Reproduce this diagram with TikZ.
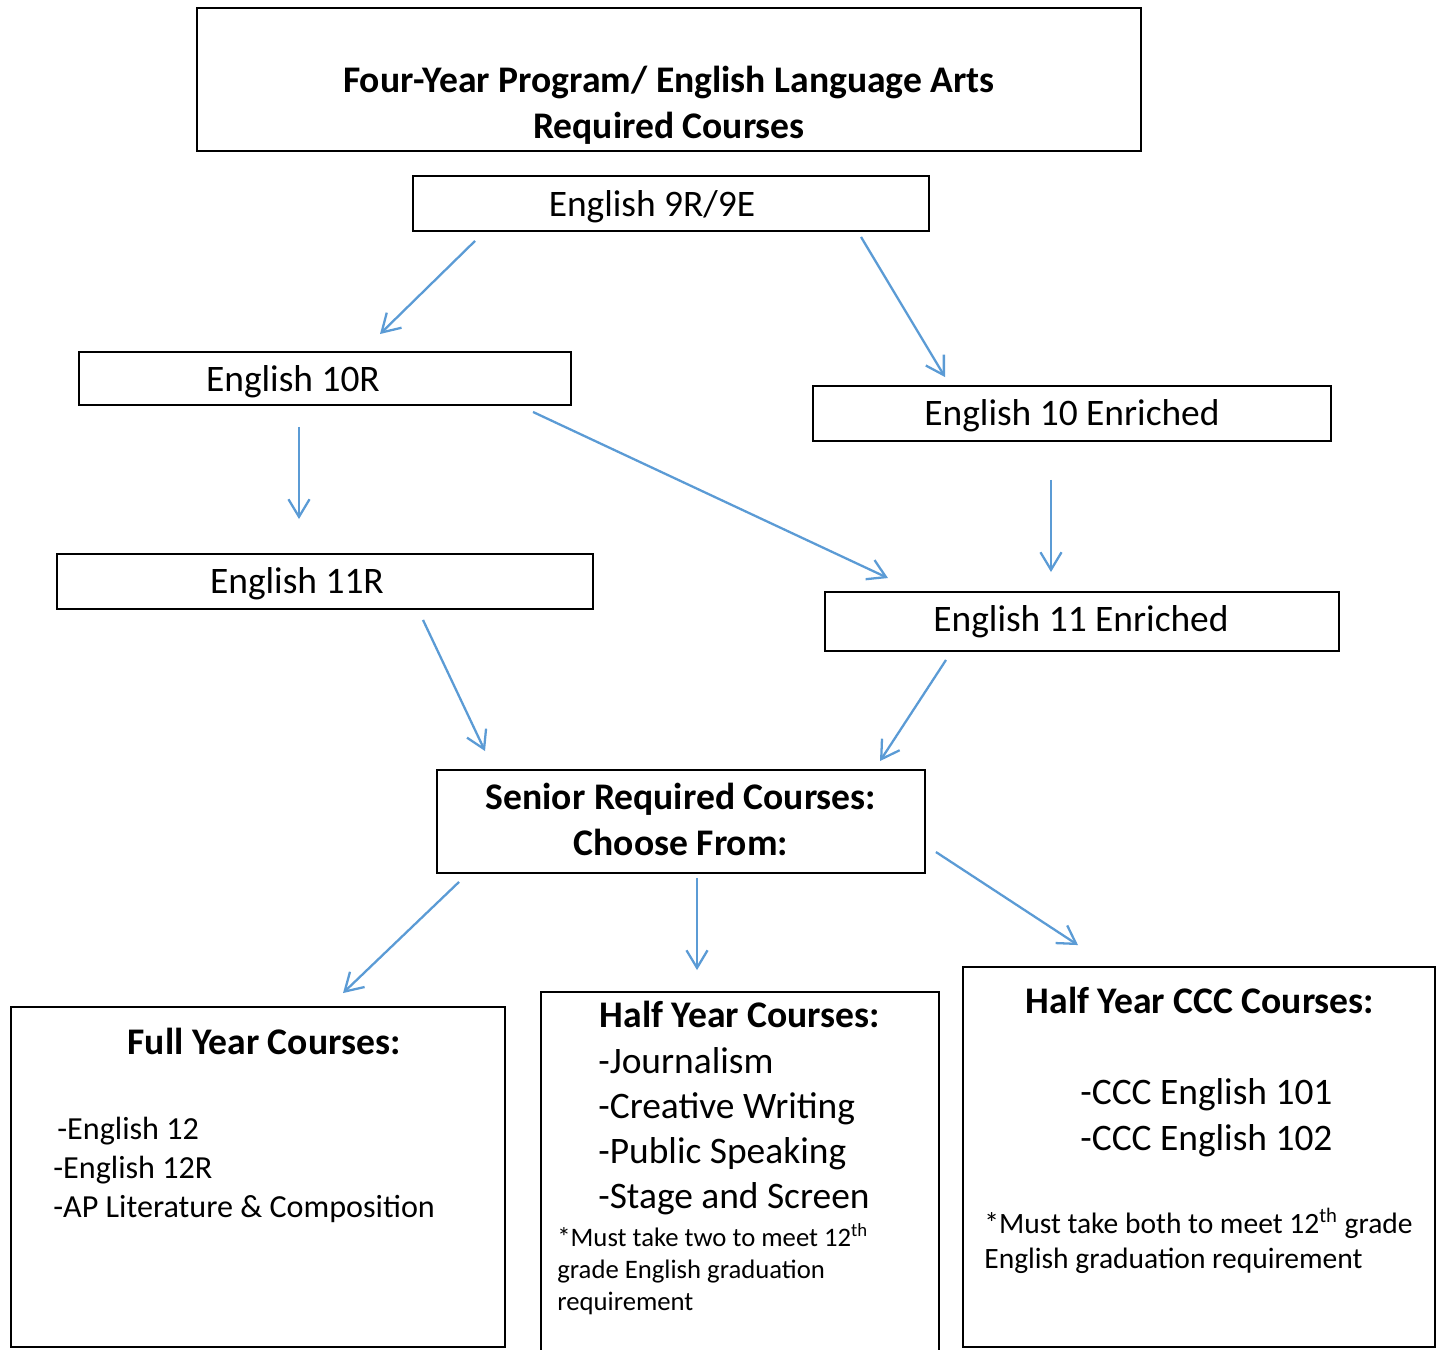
\documentclass[tikz,border=0pt]{standalone}
\usepackage{fontspec}
\setmainfont{Carlito}
\usetikzlibrary{arrows.meta}

\definecolor{arrblue}{HTML}{5B9BD5}
\tikzset{
    box/.style={draw, line width=1.1pt, inner sep=0pt},
    arr/.style={-{Straight Barb[length=10pt,width=12pt]}, line width=1.3pt, arrblue},
    big/.style={inner sep=0pt, font=\fontsize{21.3}{26}\selectfont},
    bigb/.style={inner sep=0pt, font=\fontsize{21.4}{26}\selectfont\bfseries},
    mid/.style={inner sep=0pt, font=\fontsize{18.3}{22}\selectfont},
    small/.style={inner sep=0pt, font=\fontsize{15.2}{18}\selectfont},
    smallb/.style={inner sep=0pt, font=\fontsize{16.8}{20}\selectfont},
}

\begin{document}
\begin{tikzpicture}[x=0.02cm, y=-0.02cm]
    \useasboundingbox (0,0) rectangle (1436,1349);

    % 标题
    \node[box, minimum width=18.88cm, minimum height=2.86cm] (title) at (669,79.5) {};
    \node[bigb, anchor=base] (titleA) at (669,92) {Four-Year Program/ English Language Arts};
    \node[bigb, anchor=base] (titleB) at (669,138) {Required Courses};

    % 九年级到十一年级
    \node[box, minimum width=10.32cm, minimum height=1.1cm] (e9) at (671,203.5) {};
    \node[big, anchor=base] (e9text) at (652,216) {English 9R/9E};

    \node[box, minimum width=9.84cm, minimum height=1.06cm] (e10r) at (325,378.5) {};
    \node[big, anchor=base] (e10rtext) at (293,391) {English 10R};

    \node[box, minimum width=10.36cm, minimum height=1.1cm] (e10e) at (1072,413.5) {};
    \node[big, anchor=base] (e10etext) at (1072,425) {English 10 Enriched};

    \node[box, minimum width=10.72cm, minimum height=1.1cm] (e11r) at (325,581.5) {};
    \node[big, anchor=base] (e11rtext) at (297,593) {English 11R};

    \node[box, minimum width=10.28cm, minimum height=1.18cm] (e11e) at (1082,621.5) {};
    \node[big, anchor=base] (e11etext) at (1081,631) {English 11 Enriched};

    % 十二年级
    \node[box, minimum width=9.76cm, minimum height=2.06cm] (senior) at (681,821.5) {};
    \node[bigb, anchor=base] (seniorA) at (681,809) {Senior Required Courses:};
    \node[bigb, anchor=base] (seniorB) at (681,855) {Choose From:};

    % 全年课程
    \node[box, minimum width=9.88cm, minimum height=6.8cm] (full) at (258,1177) {};
    \node[bigb, anchor=base] (fullhead) at (264,1054) {Full Year Courses:};
    \node[mid, anchor=base west] (fullA) at (57,1139) {-English 12};
    \node[mid, anchor=base west] (fullB) at (53,1178) {-English 12R};
    \node[mid, anchor=base west] (fullC) at (53,1217) {-AP Literature \& Composition};

    % 半年课程
    \node[box, minimum width=7.96cm, minimum height=7.26cm] (half) at (740,1173.5) {};
    \node[bigb, anchor=base] (halfhead) at (740,1027) {Half Year Courses:};
    \node[big, anchor=base west] (halfA) at (598,1073) {-Journalism};
    \node[big, anchor=base west] (halfB) at (598,1118) {-Creative Writing};
    \node[big, anchor=base west] (halfC) at (598,1163) {-Public Speaking};
    \node[big, anchor=base west] (halfD) at (598,1208) {-Stage and Screen};
    \node[small, anchor=base west] (halfnoteA) at (557,1246) {*Must take two to meet 12\textsuperscript{th}};
    \node[small, anchor=base west] (halfnoteB) at (557,1278) {grade English graduation};
    \node[small, anchor=base west] (halfnoteC) at (557,1310) {requirement};

    % CCC课程
    \node[box, minimum width=9.44cm, minimum height=7.6cm] (ccc) at (1199,1157) {};
    \node[bigb, anchor=base] (ccchead) at (1200,1013) {Half Year CCC Courses:};
    \node[big, anchor=base west] (cccA) at (1080,1104) {-CCC English 101};
    \node[big, anchor=base west] (cccB) at (1080,1150) {-CCC English 102};
    \node[smallb, anchor=base west] (cccnoteA) at (984,1233) {*Must take both to meet 12\textsuperscript{th} grade};
    \node[smallb, anchor=base west] (cccnoteB) at (984,1268) {English graduation requirement};

    % 箭头
    \draw[arr] ([shift={(-196,9)}]e9.south) -- ([shift={(55,-17)}]e10r.north);
    \draw[arr] ([shift={(190,5)}]e9.south) -- ([shift={(-127,-8)}]e10e.north);
    \draw[arr] ([shift={(-26,21)}]e10r.south) -- ([shift={(-26,-34)}]e11r.north);
    \draw[arr] ([shift={(208,6)}]e10r.south) -- ([shift={(-194,-13)}]e11e.north);
    \draw[arr] ([shift={(-21,38)}]e10e.south) -- ([shift={(-31,-19)}]e11e.north);
    \draw[arr] ([shift={(98,10)}]e11r.south) -- ([shift={(-196,-18)}]senior.north);
    \draw[arr] ([shift={(-136,8)}]e11e.south) -- ([shift={(199,-8)}]senior.north);
    \draw[arr] ([shift={(-222,8)}]senior.south) -- ([shift={(85,-13)}]full.north);
    \draw[arr] ([shift={(16,4)}]senior.south) -- ([shift={(-43,-21)}]half.north);
    \draw[arr] ([shift={(10,30.5)}]senior.east) -- ([shift={(-121,-21)}]ccc.north);

\end{tikzpicture}
\end{document}
